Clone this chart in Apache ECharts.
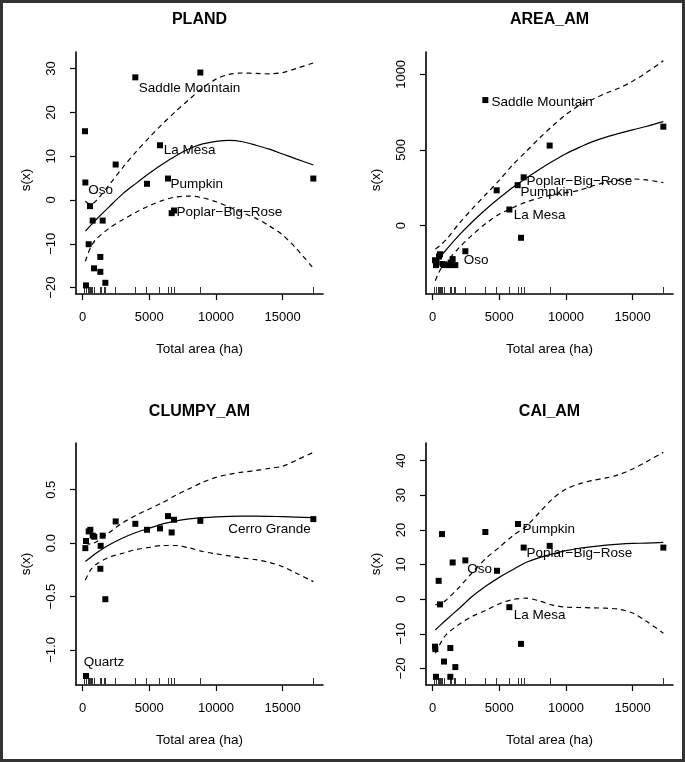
<!DOCTYPE html>
<html><head><meta charset="utf-8">
<script src="https://cdn.jsdelivr.net/npm/echarts@6/dist/echarts.min.js"></script>
<style>
html,body{margin:0;padding:0;background:#fff;}
#wrap{position:relative;width:685px;height:762px;}
#chart{position:absolute;left:0;top:0;width:685px;height:762px;}
#frame{position:absolute;left:0;top:0;width:685px;height:762px;box-sizing:border-box;border:3px solid #333;pointer-events:none;}
</style></head><body>
<div id="wrap"><div id="chart"></div><div id="frame"></div></div>
<script>
// ---- data ----
const rugArea = [150, 250, 400, 500, 550, 650, 750, 850, 1300, 1400, 1600, 1700, 2450, 3950, 4800, 5750, 6400, 6650, 6850, 8800, 17300];
const xTicks = [0, 5000, 10000, 15000];
const curveX = [200, 600, 1000, 2000, 3000, 4000, 5000, 6000, 7000, 8000, 9000, 10000, 11000, 12000, 13000, 14000, 15000, 16000, 17300];

// PLAND
const plandPtsX = [175, 200, 550, 750, 1500, 450, 1325, 850, 1325, 1700, 250, 2475, 3950, 4825, 5800, 6400, 6675, 6850, 8825, 17300];
const plandPtsY = [15.7, 4.0, -1.4, -4.7, -4.7, -10.1, -13.0, -15.6, -16.4, -18.9, -19.5, 8.1, 28.0, 3.7, 12.5, 4.9, -3.0, -2.4, 29.1, 4.9];
const plandFit = [-7.1, -5.8, -4.5, -1.5, 1.4, 3.8, 6.1, 8.2, 10.1, 11.7, 12.8, 13.4, 13.6, 13.3, 12.5, 11.6, 10.5, 9.4, 8.0];
const plandUpper = [-0.3, -1.0, -0.2, 3.5, 7.4, 11.0, 14.3, 17.4, 20.3, 23.0, 25.6, 27.6, 28.7, 29.0, 28.9, 28.8, 29.1, 30.0, 31.3];
const plandLower = [-14.0, -10.8, -9.0, -6.4, -4.5, -2.8, -1.3, -0.1, 0.7, 0.9, 0.5, -0.4, -1.6, -2.9, -4.2, -5.9, -8.0, -11.0, -15.6];
const plandYTicks = [-20, -10, 0, 10, 20, 30];
const plandLabels = [["Saddle Mountain", 4175, 25.5], ["La Mesa", 6050, 11.4], ["Pumpkin", 6550, 3.6], ["Poplar\u2212Big\u2212Rose", 7000, -2.8], ["Oso", 375, 2.3]];

// AREA_AM
const areaPtsX = [3950, 17300, 8775, 4800, 6825, 6375, 5750, 6625, 2450, 175, 250, 300, 475, 550, 750, 850, 1300, 1350, 1500, 1700];
const areaPtsY = [830, 654, 529, 233, 319, 267, 106, -81, -170, -230, -262, -245, -205, -190, -255, -262, -262, -245, -222, -262];
const areaFit = [-250, -205, -162, -62, 27, 108, 182, 252, 313, 371, 425, 475, 517, 555, 585, 610, 633, 655, 687];
const areaUpper = [-156, -128, -95, 15, 113, 207, 300, 401, 489, 577, 660, 735, 795, 835, 875, 910, 955, 1010, 1090];
const areaLower = [-365, -288, -245, -145, -60, 15, 75, 118, 155, 182, 203, 218, 233, 262, 285, 300, 308, 302, 284];
const areaYTicks = [0, 500, 1000];
const areaLabels = [["Saddle Mountain", 4375, 815], ["Poplar\u2212Big\u2212Rose", 7000, 295], ["Pumpkin", 6550, 218], ["La Mesa", 6050, 70], ["Oso", 2300, -231]];

// CLUMPY_AM
const clumpyPtsX = [200, 250, 450, 575, 750, 875, 1500, 1350, 1325, 1700, 2475, 3950, 4825, 5800, 6400, 6675, 6850, 8825, 17300, 250];
const clumpyPtsY = [-0.047, 0.02, 0.11, 0.125, 0.07, 0.06, 0.07, -0.025, -0.24, -0.525, 0.203, 0.181, 0.125, 0.138, 0.253, 0.10, 0.219, 0.209, 0.225, -1.244];
const clumpyFit = [-0.172, -0.135, -0.094, -0.016, 0.048, 0.10, 0.14, 0.18, 0.209, 0.227, 0.238, 0.246, 0.251, 0.253, 0.253, 0.251, 0.248, 0.244, 0.238];
const clumpyUpper = [0.0, -0.01, 0.01, 0.10, 0.19, 0.26, 0.32, 0.38, 0.45, 0.51, 0.57, 0.615, 0.645, 0.665, 0.68, 0.70, 0.72, 0.775, 0.85];
const clumpyLower = [-0.344, -0.25, -0.20, -0.131, -0.095, -0.06, -0.04, -0.022, -0.022, -0.045, -0.078, -0.10, -0.12, -0.14, -0.155, -0.181, -0.22, -0.28, -0.36];
const clumpyYTicks = [-1.0, -0.5, 0.0, 0.5];
const clumpyLabels = [["Cerro Grande", 10875, 0.134], ["Quartz", 50, -1.119]];

// CAI_AM
const caiPtsX = [700, 3950, 6400, 6825, 8775, 17300, 1500, 2450, 4825, 450, 550, 5750, 6625, 175, 200, 1325, 850, 1700, 250, 1325];
const caiPtsY = [18.8, 19.4, 21.7, 14.9, 15.4, 14.9, 10.6, 11.2, 8.2, 5.3, -1.5, -2.3, -12.9, -13.7, -14.4, -14.1, -18.0, -19.6, -22.4, -22.4];
const caiFit = [-8.9, -7.4, -6.0, -2.6, 0.9, 3.8, 6.3, 8.5, 10.6, 12.0, 13.1, 14.0, 14.7, 15.2, 15.6, 15.9, 16.1, 16.2, 16.4];
const caiUpper = [-1.6, -1.3, -0.3, 3.5, 7.8, 11.8, 15.0, 18.3, 21.0, 25.0, 29.0, 31.8, 33.3, 34.3, 35.0, 36.0, 37.6, 39.6, 42.4];
const caiLower = [-15.6, -12.6, -10.3, -7.2, -4.9, -3.2, -1.3, -0.1, 0.3, -0.5, -1.7, -2.3, -2.4, -2.5, -2.6, -2.9, -4.0, -6.3, -9.8];
const caiYTicks = [-20, -10, 0, 10, 20, 30, 40];
const caiLabels = [["Pumpkin", 6700, 20.3], ["Poplar\u2212Big\u2212Rose", 7000, 13.3], ["Oso", 2550, 8.5], ["La Mesa", 6050, -4.5]];

const panelTitles = ["PLAND", "AREA_AM", "CLUMPY_AM", "CAI_AM"];
const xAxisTitle = "Total area (ha)";
const yAxisTitle = "s(x)";

// ---- layout / styling ----
const FONT = '"Liberation Sans", Arial, Helvetica, sans-serif';
const panels = [
  {left: 76, top: 52, ymin: -21.46, ymax: 33.79, yticks: plandYTicks, dec: 0, px: plandPtsX, py: plandPtsY, fit: plandFit, up: plandUpper, lo: plandLower, labels: plandLabels, shift: 14},
  {left: 426, top: 52, ymin: -453, ymax: 1148, yticks: areaYTicks, dec: 0, px: areaPtsX, py: areaPtsY, fit: areaFit, up: areaUpper, lo: areaLower, labels: areaLabels, shift: 14},
  {left: 76, top: 443, ymin: -1.328, ymax: 0.9375, yticks: clumpyYTicks, dec: 1, px: clumpyPtsX, py: clumpyPtsY, fit: clumpyFit, up: clumpyUpper, lo: clumpyLower, labels: clumpyLabels, shift: 0},
  {left: 426, top: 443, ymin: -24.77, ymax: 45.09, yticks: caiYTicks, dec: 0, px: caiPtsX, py: caiPtsY, fit: caiFit, up: caiUpper, lo: caiLower, labels: caiLabels, shift: 0}
];
const W = 247, H = 242, XMIN = -500, XMAX = 18025;
const TXT = '#000';
const minus = s => s.replace('-', '\u2212');

const grid = [], xAxis = [], yAxis = [], series = [], graphic = [];
panels.forEach((p, i) => {
  grid.push({left: p.left, top: p.top, width: W, height: H, outerBoundsMode: 'none', containLabel: false});
  xAxis.push({
    type: 'value', gridIndex: i, min: XMIN, max: XMAX, position: 'bottom',
    name: xAxisTitle, nameLocation: 'middle', nameGap: 48,
    nameTextStyle: {fontFamily: FONT, fontSize: 13.5, color: TXT},
    axisLine: {show: true, onZero: false, lineStyle: {color: '#000', width: 1.6}},
    axisTick: {show: true, length: 6, customValues: xTicks, lineStyle: {color: '#000', width: 1.2}},
    axisLabel: {show: true, customValues: xTicks, margin: 17, fontFamily: FONT, fontSize: 13, color: TXT, formatter: v => minus(String(v))},
    splitLine: {show: false}
  });
  xAxis.push({
    type: 'value', gridIndex: i, min: XMIN, max: XMAX, position: 'bottom',
    axisLine: {show: false, onZero: false},
    axisTick: {show: true, inside: true, length: 7, customValues: rugArea, lineStyle: {color: '#333', width: 1}},
    axisLabel: {show: false},
    splitLine: {show: false}
  });
  yAxis.push({
    type: 'value', gridIndex: i, min: p.ymin, max: p.ymax, position: 'left',
    name: yAxisTitle, nameLocation: 'middle', nameGap: 43,
    nameTextStyle: {fontFamily: FONT, fontSize: 13.5, color: TXT, padding: [0, p.shift, 0, 0]},
    axisLine: {show: true, onZero: false, lineStyle: {color: '#000', width: 1.6}},
    axisTick: {show: true, length: 6, customValues: p.yticks, lineStyle: {color: '#000', width: 1.2}},
    axisLabel: {show: true, customValues: p.yticks, rotate: 90, margin: 18, fontFamily: FONT, fontSize: 13, color: TXT,
      formatter: v => minus(v.toFixed(p.dec))},
    splitLine: {show: false}
  });
  const xa = i * 2;
  const toPairs = arr => curveX.map((x, k) => [x, arr[k]]);
  series.push({type: 'line', xAxisIndex: xa, yAxisIndex: i, data: toPairs(p.fit), smooth: 0.3, symbol: 'none', silent: true, z: 3,
    lineStyle: {color: '#000', width: 1.2, opacity: 1}});
  [p.up, p.lo].forEach(arr => series.push({type: 'line', xAxisIndex: xa, yAxisIndex: i, data: toPairs(arr), smooth: 0.3, symbol: 'none', silent: true, z: 3,
    lineStyle: {color: '#000', width: 1.2, opacity: 1, type: [5, 4]}}));
  series.push({type: 'scatter', xAxisIndex: xa, yAxisIndex: i, data: p.px.map((x, k) => [x, p.py[k]]), symbol: 'rect', symbolSize: 6,
    itemStyle: {color: '#000', opacity: 1}, silent: true, z: 4});
  series.push({type: 'scatter', xAxisIndex: xa, yAxisIndex: i, clip: false, silent: true, z: 5,
    data: p.labels.map(l => ({value: [l[1], l[2]], name: l[0]})), symbol: 'circle', symbolSize: 1,
    itemStyle: {color: 'rgba(0,0,0,0)'},
    label: {show: true, position: 'right', distance: 0, formatter: '{b}', fontFamily: FONT, fontSize: 13.5, color: TXT, opacity: 1}});
  graphic.push({type: 'text', x: p.left + W / 2, y: i < 2 ? 19.3 : 411.8, silent: true,
    style: {text: panelTitles[i], font: 'bold 16px ' + FONT, fill: '#000', textAlign: 'center', textVerticalAlign: 'middle'}});
});

const chart = echarts.init(document.getElementById('chart'), null, {renderer: 'canvas'});
chart.setOption({animation: false, backgroundColor: '#fff', grid, xAxis, yAxis, series, graphic});
</script>
</body></html>
